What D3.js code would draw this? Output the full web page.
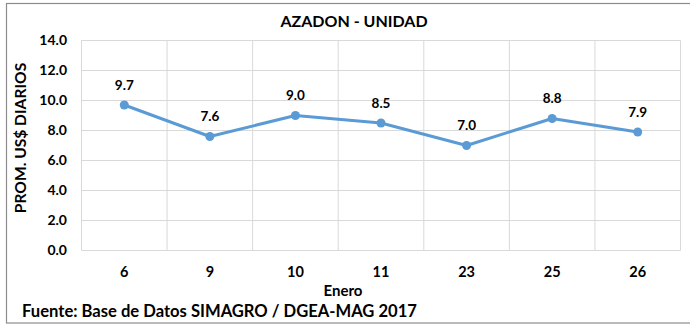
<!DOCTYPE html>
<html>
<head>
<meta charset="utf-8">
<script src="https://cdn.jsdelivr.net/npm/d3@7/dist/d3.min.js"></script>
<style>
  html, body { margin: 0; padding: 0; background: #fff; }
  svg { display: block; }
  text { font-family: Lato, "Open Sans", sans-serif; font-weight: bold; fill: #000; }
</style>
</head>
<body>
<svg id="chart" width="690" height="324"></svg>
<script>
// Daily average price, AZADON per unit, January 2017
const days = ["6", "9", "10", "11", "23", "25", "26"];
const prices = [9.7, 7.6, 9.0, 8.5, 7.0, 8.8, 7.9];
const yTicks = [0, 2, 4, 6, 8, 10, 12, 14];

const title = "AZADON - UNIDAD";
const yTitle = "PROM. US$ DIARIOS";
const xTitle = "Enero";
const source = "Fuente: Base de Datos SIMAGRO / DGEA-MAG 2017";

const svg = d3.select("#chart");
const W = 690, H = 324;
const plot = { left: 81.5, right: 680.5, top: 40.5, bottom: 250.5 };
const lineColor = "#5b9bd5";

// outer frame
svg.append("rect")
  .attr("x", 6.5).attr("y", 3.5)
  .attr("width", W).attr("height", 319.5)
  .attr("fill", "#fff")
  .attr("stroke", "#8c8c8c").attr("stroke-width", 1.2);

const x = d3.scaleBand().domain(days).range([plot.left, plot.right]);
const y = d3.scaleLinear().domain([0, 14]).range([plot.bottom, plot.top]);

// horizontal gridlines
svg.append("g").selectAll("line").data(yTicks).join("line")
  .attr("x1", plot.left).attr("x2", plot.right)
  .attr("y1", d => y(d)).attr("y2", d => y(d))
  .attr("stroke", "#d9d9d9").attr("stroke-width", 1);

// vertical gridlines at category boundaries
const bounds = days.map(d => x(d)).concat([x(days[days.length - 1]) + x.bandwidth()]);
svg.append("g").selectAll("line").data(bounds).join("line")
  .attr("x1", d => d).attr("x2", d => d)
  .attr("y1", plot.top).attr("y2", plot.bottom)
  .attr("stroke", "#d9d9d9").attr("stroke-width", 1);

// y tick labels
svg.append("g").selectAll("text").data(yTicks).join("text")
  .attr("x", 67).attr("y", d => y(d))
  .attr("dy", "0.35em")
  .attr("text-anchor", "end")
  .attr("font-size", 14)
  .text(d => d.toFixed(1));

// x category labels
svg.append("g").selectAll("text").data(days).join("text")
  .attr("x", d => x(d) + x.bandwidth() / 2).attr("y", 272)
  .attr("dy", "0.35em")
  .attr("text-anchor", "middle")
  .attr("font-size", 14.5)
  .text(d => d);

// line and markers
const cx = d => x(d) + x.bandwidth() / 2;
const line = d3.line().x((v, i) => cx(days[i])).y(v => y(v));
svg.append("path").datum(prices)
  .attr("d", line)
  .attr("fill", "none")
  .attr("stroke", lineColor).attr("stroke-width", 3)
  .attr("stroke-linejoin", "round");

svg.append("g").selectAll("circle").data(prices).join("circle")
  .attr("cx", (v, i) => cx(days[i])).attr("cy", v => y(v))
  .attr("r", 4.5)
  .attr("fill", lineColor);

// value labels
svg.append("g").selectAll("text").data(prices).join("text")
  .attr("x", (v, i) => cx(days[i])).attr("y", v => y(v) - 15.5)
  .attr("text-anchor", "middle")
  .attr("font-size", 13.5)
  .text(v => v.toFixed(1));

// titles
svg.append("text")
  .attr("x", 354).attr("y", 27)
  .attr("text-anchor", "middle")
  .attr("font-size", 16)
  .text(title);

svg.append("text")
  .attr("transform", "translate(26,138) rotate(-90)")
  .attr("text-anchor", "middle")
  .attr("font-size", 15.6)
  .text(yTitle);

svg.append("text")
  .attr("x", 343).attr("y", 291)
  .attr("dy", "0.35em")
  .attr("text-anchor", "middle")
  .attr("font-size", 15)
  .text(xTitle);

svg.append("text")
  .attr("x", 22).attr("y", 317)
  .attr("font-size", 16.6)
  .text(source);
</script>
</body>
</html>
